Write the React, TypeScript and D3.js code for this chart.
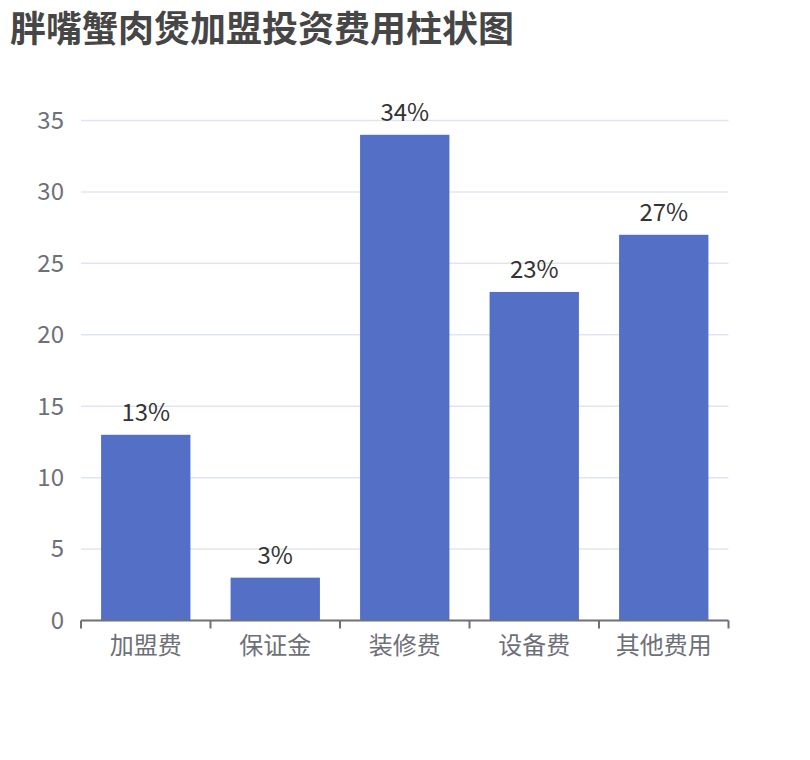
import * as d3 from 'd3'
import React, { useRef, useEffect } from 'react'

const categories = ['加盟费', '保证金', '装修费', '设备费', '其他费用']
const values = [13, 3, 34, 23, 27]
const labels = ['13%', '3%', '34%', '23%', '27%']
const yTicks = [0, 5, 10, 15, 20, 25, 30, 35]

const width = 810
const height = 760
const font = '"Noto Sans CJK SC", "Noto Sans", sans-serif'

export default function App() {
  const svgRef = useRef(null)

  function renderChart() {
    const svg = d3.select(svgRef.current)
    svg.selectAll('*').remove()

    const x = d3.scaleBand<string>().domain(categories).range([81, 728.5])
    const y = d3.scaleLinear().domain([0, 35]).range([620.5, 120.5])
    const barWidth = x.bandwidth() * 0.69

    svg
      .append('text')
      .text('胖嘴蟹肉煲加盟投资费用柱状图')
      .attr('x', 10)
      .attr('y', 42)
      .attr('font-family', font)
      .attr('font-size', '36px')
      .attr('font-weight', 'bold')
      .attr('fill', '#464646')

    // grid
    svg
      .append('g')
      .selectAll('line')
      .data(yTicks.filter((t) => t > 0))
      .join('line')
      .attr('x1', 81)
      .attr('x2', 728.5)
      .attr('y1', (d) => y(d))
      .attr('y2', (d) => y(d))
      .attr('stroke', '#E0E6F1')
      .attr('stroke-width', 1.5)

    svg
      .append('g')
      .selectAll('text')
      .data(yTicks)
      .join('text')
      .text((d) => d)
      .attr('x', 64)
      .attr('y', (d) => y(d))
      .attr('dy', '0.35em')
      .attr('text-anchor', 'end')
      .attr('font-family', font)
      .attr('font-size', '24px')
      .attr('fill', '#6E7079')

    // bars
    svg
      .append('g')
      .selectAll('rect')
      .data(values)
      .join('rect')
      .attr('x', (d, i) => x(categories[i])! + (x.bandwidth() - barWidth) / 2)
      .attr('y', (d) => y(d))
      .attr('width', barWidth)
      .attr('height', (d) => y(0) - y(d))
      .attr('fill', '#5470C6')

    svg
      .append('g')
      .selectAll('text')
      .data(values)
      .join('text')
      .text((d, i) => labels[i])
      .attr('x', (d, i) => x(categories[i])! + x.bandwidth() / 2)
      .attr('y', (d) => y(d) - 14)
      .attr('text-anchor', 'middle')
      .attr('font-family', font)
      .attr('font-size', '24px')
      .attr('fill', '#333')

    // x axis
    const axis = svg.append('g')
    axis
      .append('line')
      .attr('x1', 81)
      .attr('x2', 728.5)
      .attr('y1', y(0))
      .attr('y2', y(0))
      .attr('stroke', '#6E7079')
      .attr('stroke-width', 2)

    const edges = categories.map((c) => x(c)!).concat([728.5])
    axis
      .selectAll('line.tick')
      .data(edges)
      .join('line')
      .attr('class', 'tick')
      .attr('x1', (d) => d)
      .attr('x2', (d) => d)
      .attr('y1', y(0))
      .attr('y2', y(0) + 8)
      .attr('stroke', '#6E7079')
      .attr('stroke-width', 2)

    axis
      .selectAll('text')
      .data(categories)
      .join('text')
      .text((d) => d)
      .attr('x', (d) => x(d)! + x.bandwidth() / 2)
      .attr('y', 646)
      .attr('dy', '0.35em')
      .attr('text-anchor', 'middle')
      .attr('font-family', font)
      .attr('font-size', '24px')
      .attr('fill', '#6E7079')
  }

  useEffect(() => {
    renderChart()
  }, [])

  return (
    <div style={{ position: 'absolute', left: 0, top: 0 }}>
      <svg ref={svgRef} width={width} height={height} style={{ display: 'block' }} />
    </div>
  )
}
